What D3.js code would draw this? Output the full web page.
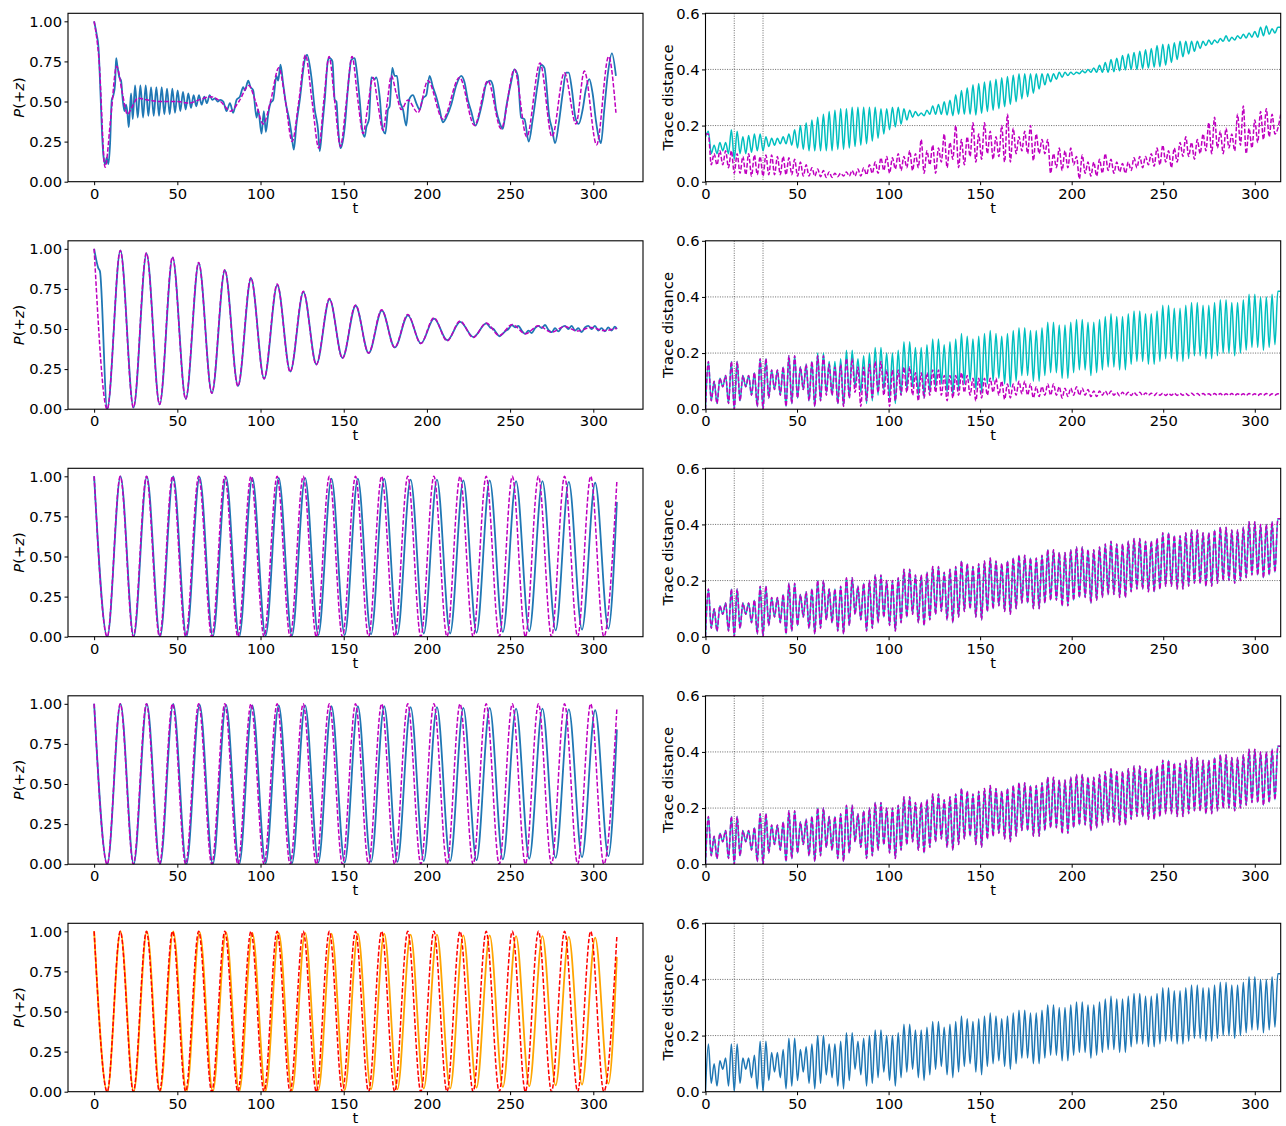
<!DOCTYPE html>
<html>
<head>
<meta charset="utf-8">
<script src="https://cdn.jsdelivr.net/npm/d3@7"></script>
<style>
  body { margin: 0; background: #fff; }
  svg text { font-family: "DejaVu Sans", sans-serif; fill: #000; }
</style>
</head>
<body>
<div id="fig"></div>
<script>
// ---- ticks ----
const tTicks = [0, 50, 100, 150, 200, 250, 300];
const pTicks = [0, 0.25, 0.5, 0.75, 1.0];
const tdTicks = [0, 0.2, 0.4, 0.6];
const gridT = [15.708, 31.416];
const gridTd = [0.2, 0.4];

// ---- P(+z), row 1 (t, value) ----
const p1Sim = [[0,1.0],[1.5,0.92],[2.6,0.84],[3.6,0.61],[4.6,0.34],[5.6,0.16],[6.6,0.11],[7.6,0.15],[8.6,0.11],[9.6,0.24],[10.6,0.51],[11.6,0.54],[12.6,0.61],[13.2,0.77],[14.0,0.72],[15.2,0.65],[16.2,0.63],[17.2,0.51],[18.2,0.44],[19.2,0.48],[20.0,0.43],[20.8,0.34],[21.5,0.45],[22.2,0.55],[23.2,0.39],[24.6,0.60],[26.2,0.40],[27.8,0.60],[29.4,0.40],[31.0,0.60],[32.6,0.41],[34.2,0.59],[35.8,0.41],[37.4,0.59],[39.0,0.41],[40.6,0.59],[42.2,0.42],[43.8,0.58],[45.4,0.42],[47.0,0.58],[48.6,0.43],[50.2,0.57],[51.8,0.44],[53.4,0.56],[55.0,0.45],[56.6,0.55],[58.2,0.46],[59.8,0.54],[61.4,0.47],[63.0,0.54],[64.6,0.48],[66.2,0.53],[67.8,0.49],[69.4,0.54],[71.0,0.51],[72.6,0.52],[74.2,0.50],[75.8,0.51],[77.6,0.50],[79.6,0.44],[81.6,0.49],[83.6,0.43],[85.6,0.51],[87.6,0.53],[89.6,0.59],[90.6,0.57],[92.6,0.63],[94.0,0.59],[95.6,0.57],[97.6,0.40],[98.6,0.45],[100.6,0.30],[102.0,0.44],[103.2,0.31],[104.6,0.42],[106.0,0.49],[107.6,0.51],[109.6,0.66],[110.6,0.63],[112.0,0.73],[113.6,0.61],[115.2,0.49],[117.2,0.39],[118.6,0.30],[120.0,0.20],[121.6,0.36],[123.6,0.51],[126.6,0.76],[128.0,0.79],[130.6,0.65],[132.6,0.45],[134.6,0.32],[135.6,0.19],[137.0,0.33],[138.6,0.51],[140.6,0.76],[141.6,0.77],[143.2,0.75],[144.6,0.51],[145.6,0.50],[146.6,0.34],[148.0,0.21],[149.2,0.24],[150.6,0.34],[152.6,0.59],[154.6,0.76],[156.6,0.77],[157.6,0.71],[159.6,0.51],[161.2,0.32],[162.6,0.28],[163.6,0.34],[165.2,0.39],[166.6,0.65],[168.6,0.64],[169.6,0.65],[171.6,0.53],[173.2,0.34],[175.0,0.30],[176.6,0.45],[177.6,0.47],[179.2,0.71],[180.6,0.66],[182.0,0.66],[183.6,0.51],[185.6,0.45],[187.6,0.35],[189.2,0.51],[191.6,0.54],[193.6,0.49],[195.6,0.45],[197.6,0.52],[199.6,0.54],[201.6,0.66],[203.6,0.59],[205.6,0.53],[207.6,0.45],[209.6,0.37],[211.6,0.40],[214.6,0.48],[217.6,0.60],[220.6,0.66],[222.6,0.62],[224.6,0.51],[226.6,0.44],[229.2,0.35],[231.6,0.42],[233.6,0.51],[235.6,0.61],[238.0,0.63],[239.6,0.60],[241.6,0.45],[243.6,0.37],[245.6,0.33],[247.6,0.46],[250.6,0.62],[252.6,0.70],[254.6,0.66],[256.6,0.40],[258.6,0.39],[261.2,0.25],[263.6,0.39],[266.6,0.61],[268.6,0.73],[270.6,0.71],[273.6,0.40],[275.2,0.33],[277.0,0.24],[279.2,0.36],[281.6,0.55],[283.6,0.68],[285.2,0.68],[287.2,0.57],[289.2,0.40],[291.2,0.36],[293.6,0.45],[295.6,0.58],[297.6,0.64],[299.6,0.55],[301.6,0.38],[303.2,0.28],[304.6,0.24],[306.6,0.45],[308.6,0.66],[311.2,0.80],[313.6,0.66]];
const p1Exact = [[0,1.0],[3,0.75],[6.6,0.09],[10,0.40],[13.5,0.72],[17,0.55],[20,0.42],[23,0.47],[26,0.52],[32,0.51],[40,0.50],[50,0.50],[57,0.49],[63,0.51],[70,0.53],[76,0.50],[82,0.44],[87,0.50],[93,0.60],[97,0.50],[101.6,0.36],[106,0.50],[111,0.71],[115,0.50],[119,0.25],[123,0.50],[127,0.79],[131,0.50],[135,0.21],[138,0.50],[141.2,0.78],[144.6,0.50],[148,0.22],[151.6,0.50],[155,0.78],[158.6,0.50],[161.6,0.30],[164.6,0.48],[167.6,0.65],[170.6,0.48],[173.6,0.32],[176,0.48],[178.6,0.66],[181.6,0.55],[184.6,0.45],[188.6,0.51],[194.6,0.43],[200.6,0.63],[209.6,0.39],[219.6,0.65],[228.6,0.35],[236.6,0.63],[244.6,0.33],[252.6,0.70],[260,0.28],[268,0.74],[275.2,0.28],[282.6,0.68],[289.6,0.36],[294.6,0.69],[302,0.23],[309.2,0.78],[313.6,0.43]];

// ---- P(+z), row 2 ----
const p2Sim = [[0,1],[2.5,0.88],[3.5,0.86],[7.85,0],[15.8,0.99],[23.7,0.01],[31.5,0.97],[39.4,0.03],[47.2,0.945],[55.1,0.065],[62.9,0.91],[70.8,0.10],[78.6,0.865],[86.5,0.145],[94.3,0.815],[102.2,0.19],[110.1,0.775],[117.9,0.235],[125.8,0.73],[133.6,0.28],[141.5,0.685],[149.3,0.32],[157.2,0.645],[165,0.35],[172.9,0.615],[180.7,0.385],[188.6,0.585],[196.4,0.41],[204.3,0.565],[212.2,0.43],[220,0.545],[227.9,0.45],[235.7,0.535],[238,0.51],[240,0.50],[241.5,0.48],[243.5,0.455],[245.5,0.47],[247,0.485],[249,0.50],[251,0.525],[253,0.51],[255,0.52],[257,0.49],[259,0.47],[261,0.49],[263,0.475],[265,0.505],[267,0.52],[269,0.505],[271,0.525],[273,0.495],[275,0.48],[277,0.505],[279,0.485],[281,0.51],[283,0.52],[285,0.50],[287,0.52],[289,0.49],[291,0.505],[293,0.48],[295,0.51],[297,0.52],[299,0.50],[301,0.52],[303,0.49],[305,0.505],[307,0.485],[309,0.51],[311,0.49],[313,0.515],[314.2,0.50]];
const p2Exact = [[0,1],[7.85,0],[15.7,0.99],[23.6,0.01],[31.4,0.975],[39.3,0.03],[47.1,0.95],[55,0.063],[62.8,0.915],[70.7,0.10],[78.5,0.87],[86.4,0.143],[94.2,0.82],[102.1,0.19],[110,0.78],[117.8,0.233],[125.7,0.735],[133.5,0.277],[141.4,0.69],[149.2,0.317],[157.1,0.65],[164.9,0.35],[172.8,0.62],[180.6,0.384],[188.5,0.59],[196.3,0.41],[204.2,0.57],[212.1,0.426],[219.9,0.55],[227.8,0.447],[235.6,0.537],[243.5,0.46],[251.3,0.528],[259.2,0.47],[267,0.52],[274.9,0.48],[282.7,0.515],[290.6,0.487],[298.5,0.51],[306.3,0.49],[314.2,0.505]];

// ---- P(+z), rows 3-5 ----
const pSim = [[0,1],[7.92,0],[15.85,1],[23.77,0],[31.7,1],[39.62,0],[47.55,1],[55.47,0],[63.4,0.995],[71.32,0],[79.25,0.995],[87.17,0],[95.09,0.99],[103.02,0.005],[110.94,0.99],[118.87,0.005],[126.79,0.99],[134.72,0.01],[142.64,0.985],[150.57,0.01],[158.49,0.985],[166.42,0.015],[174.34,0.985],[182.26,0.015],[190.19,0.98],[198.11,0.02],[206.04,0.98],[213.96,0.02],[221.89,0.975],[229.81,0.025],[237.74,0.975],[245.66,0.03],[253.58,0.97],[261.51,0.035],[269.43,0.97],[277.36,0.04],[285.28,0.965],[293.21,0.045],[301.13,0.96],[309.06,0.05],[314.16,0.84]];
const pExact = [[0,1],[7.85,0],[15.71,1],[23.56,0],[31.42,1],[39.27,0],[47.12,1],[54.98,0],[62.83,1],[70.69,0],[78.54,1],[86.39,0],[94.25,1],[102.1,0],[109.96,1],[117.81,0],[125.66,1],[133.52,0],[141.37,1],[149.23,0],[157.08,1],[164.93,0],[172.79,1],[180.64,0],[188.5,1],[196.35,0],[204.2,1],[212.06,0],[219.91,1],[227.77,0],[235.62,1],[243.47,0],[251.33,1],[259.18,0],[267.04,1],[274.89,0],[282.74,1],[290.6,0],[298.45,1],[306.31,0],[314.16,0.97]];

// ---- trace distance: upper turning points (t = pi*(i+0.5)) and lower ones (t = pi*i) ----
const td1CyanHi = [0.18,0.13,0.14,0.14,0.185,0.18,0.16,0.165,0.17,0.17,0.16,0.155,0.155,0.16,0.17,0.185,0.20,0.21,0.22,0.23,0.24,0.25,0.255,0.26,0.26,0.265,0.265,0.265,0.265,0.265,0.26,0.26,0.265,0.265,0.26,0.255,0.25,0.245,0.255,0.27,0.275,0.285,0.29,0.31,0.325,0.335,0.345,0.35,0.355,0.36,0.365,0.37,0.375,0.38,0.385,0.385,0.385,0.385,0.385,0.385,0.385,0.39,0.39,0.39,0.39,0.395,0.40,0.405,0.415,0.425,0.435,0.44,0.45,0.455,0.46,0.465,0.47,0.475,0.485,0.49,0.49,0.495,0.50,0.50,0.50,0.50,0.50,0.505,0.505,0.51,0.52,0.515,0.52,0.525,0.53,0.535,0.55,0.555,0.545,0.55];
const td1CyanLo = [0.16,0.10,0.10,0.11,0.10,0.08,0.10,0.10,0.105,0.11,0.11,0.125,0.13,0.135,0.135,0.13,0.12,0.115,0.11,0.11,0.11,0.11,0.11,0.115,0.115,0.12,0.125,0.13,0.135,0.145,0.155,0.17,0.185,0.195,0.205,0.22,0.23,0.235,0.235,0.24,0.24,0.24,0.238,0.235,0.24,0.24,0.24,0.238,0.244,0.25,0.255,0.26,0.267,0.275,0.285,0.295,0.303,0.315,0.33,0.345,0.356,0.365,0.372,0.378,0.382,0.385,0.388,0.39,0.39,0.39,0.39,0.392,0.395,0.398,0.40,0.40,0.403,0.405,0.408,0.41,0.415,0.425,0.435,0.445,0.455,0.465,0.475,0.485,0.49,0.495,0.50,0.50,0.505,0.51,0.512,0.515,0.515,0.52,0.525,0.53,0.55];
const td1MagHi = [0.17,0.10,0.11,0.11,0.11,0.10,0.09,0.10,0.095,0.09,0.095,0.095,0.09,0.09,0.085,0.08,0.07,0.06,0.05,0.045,0.04,0.035,0.03,0.03,0.035,0.04,0.045,0.05,0.06,0.07,0.085,0.09,0.085,0.10,0.09,0.11,0.10,0.15,0.11,0.13,0.12,0.17,0.14,0.20,0.15,0.16,0.21,0.17,0.21,0.18,0.16,0.20,0.24,0.19,0.16,0.18,0.20,0.17,0.15,0.15,0.10,0.12,0.11,0.12,0.09,0.095,0.07,0.07,0.08,0.10,0.08,0.07,0.065,0.07,0.085,0.09,0.09,0.10,0.12,0.13,0.11,0.12,0.14,0.16,0.14,0.15,0.17,0.21,0.23,0.18,0.19,0.17,0.24,0.27,0.19,0.22,0.25,0.26,0.24,0.19];
const td1MagLo = [0.17,0.06,0.06,0.06,0.05,0.03,0.03,0.025,0.02,0.025,0.02,0.025,0.025,0.025,0.025,0.025,0.02,0.02,0.02,0.02,0.018,0.015,0.015,0.018,0.02,0.02,0.02,0.02,0.025,0.03,0.03,0.04,0.03,0.045,0.04,0.05,0.04,0.05,0.03,0.06,0.03,0.07,0.05,0.08,0.05,0.06,0.09,0.07,0.08,0.10,0.08,0.09,0.07,0.07,0.10,0.11,0.10,0.075,0.10,0.10,0.03,0.05,0.04,0.05,0.06,0.01,0.03,0.02,0.02,0.03,0.04,0.03,0.035,0.03,0.04,0.05,0.05,0.06,0.055,0.06,0.07,0.05,0.07,0.09,0.09,0.08,0.10,0.11,0.10,0.12,0.10,0.12,0.11,0.13,0.10,0.12,0.14,0.15,0.16,0.17,0.24];
const td2MagHi = [0.17,0.10,0.11,0.12,0.17,0.17,0.12,0.12,0.13,0.18,0.18,0.14,0.14,0.15,0.19,0.19,0.15,0.16,0.17,0.19,0.19,0.16,0.15,0.16,0.18,0.18,0.15,0.15,0.16,0.17,0.17,0.14,0.14,0.14,0.15,0.15,0.13,0.13,0.13,0.14,0.14,0.12,0.12,0.12,0.13,0.12,0.11,0.11,0.11,0.11,0.11,0.10,0.09,0.09,0.10,0.10,0.09,0.08,0.08,0.09,0.09,0.08,0.075,0.075,0.08,0.075,0.07,0.065,0.065,0.065,0.065,0.06,0.06,0.06,0.06,0.06,0.058,0.057,0.058,0.057,0.056,0.057,0.056,0.056,0.057,0.056,0.056,0.055,0.056,0.056,0.055,0.056,0.055,0.055,0.056,0.055,0.055,0.056,0.055,0.055];
const td2MagLo = [0.0,0.03,0.02,0.08,0.02,0.0,0.03,0.08,0.05,0.01,0.0,0.04,0.07,0.05,0.01,0.02,0.04,0.07,0.03,0.01,0.03,0.05,0.05,0.02,0.01,0.04,0.06,0.01,0.03,0.04,0.06,0.05,0.01,0.03,0.05,0.06,0.05,0.03,0.04,0.05,0.06,0.05,0.03,0.04,0.05,0.06,0.05,0.03,0.04,0.05,0.06,0.05,0.035,0.04,0.05,0.055,0.05,0.04,0.045,0.05,0.05,0.05,0.04,0.045,0.05,0.05,0.05,0.045,0.045,0.05,0.05,0.05,0.048,0.05,0.049,0.05,0.049,0.05,0.049,0.05,0.049,0.05,0.049,0.05,0.049,0.05,0.049,0.05,0.049,0.05,0.049,0.05,0.049,0.05,0.049,0.05,0.049,0.05,0.049,0.05,0.05];
const tdSimHi = [0.17,0.10,0.11,0.12,0.17,0.17,0.12,0.12,0.13,0.18,0.18,0.14,0.14,0.15,0.19,0.19,0.15,0.16,0.17,0.20,0.20,0.17,0.17,0.18,0.21,0.21,0.18,0.19,0.20,0.22,0.22,0.20,0.20,0.21,0.24,0.24,0.22,0.22,0.23,0.25,0.25,0.23,0.24,0.25,0.27,0.26,0.25,0.26,0.27,0.28,0.27,0.26,0.27,0.28,0.29,0.29,0.28,0.28,0.29,0.31,0.31,0.30,0.30,0.31,0.32,0.32,0.31,0.31,0.32,0.33,0.34,0.33,0.33,0.34,0.35,0.35,0.34,0.34,0.35,0.37,0.37,0.36,0.36,0.37,0.38,0.38,0.37,0.37,0.38,0.39,0.39,0.38,0.38,0.39,0.41,0.41,0.40,0.40,0.41,0.42];
const tdSimLo = [0.0,0.03,0.02,0.08,0.02,0.0,0.03,0.08,0.05,0.01,0.0,0.04,0.07,0.05,0.01,0.02,0.04,0.07,0.03,0.01,0.03,0.06,0.05,0.02,0.01,0.04,0.08,0.06,0.02,0.03,0.05,0.07,0.04,0.02,0.05,0.07,0.08,0.05,0.04,0.06,0.08,0.09,0.06,0.05,0.07,0.09,0.10,0.07,0.06,0.09,0.10,0.11,0.09,0.08,0.10,0.12,0.12,0.10,0.10,0.12,0.13,0.13,0.11,0.11,0.13,0.14,0.14,0.12,0.13,0.14,0.15,0.15,0.14,0.14,0.16,0.17,0.17,0.16,0.16,0.17,0.18,0.18,0.17,0.17,0.18,0.19,0.19,0.18,0.18,0.19,0.20,0.20,0.19,0.20,0.21,0.22,0.22,0.21,0.22,0.23,0.42];

// ---- layout ----
const W = 1286, H = 1126;
const leftRange = [68, 643], rightRange = [705.5, 1280.7];
const rowH = 168.4;
const rowTop = r => 13.3 + r * 227.5;
const C = { blue: '#1f77b4', mag: '#bf00bf', cyan: '#00bfbf', orange: '#ffa500', red: '#ff0000' };

function turning(hi, lo) {
    const pts = [];
    for (let i = 0; i < hi.length; i++) {
        pts.push([Math.PI * i, lo[i]]);
        pts.push([Math.PI * (i + 0.5), hi[i]]);
    }
    if (lo.length > hi.length) pts.push([Math.PI * hi.length, lo[hi.length]]);
    return pts;
}

const td1Cyan = turning(td1CyanHi, td1CyanLo);
const td1Mag = turning(td1MagHi, td1MagLo);
const td2Mag = turning(td2MagHi, td2MagLo);
const tdSim = turning(tdSimHi, tdSimLo);

const leftRows = [
    [{ d: p1Sim, c: C.blue }, { d: p1Exact, c: C.mag, dash: true }],
    [{ d: p2Sim, c: C.blue }, { d: p2Exact, c: C.mag, dash: true }],
    [{ d: pSim, c: C.blue }, { d: pExact, c: C.mag, dash: true }],
    [{ d: pSim, c: C.blue }, { d: pExact, c: C.mag, dash: true }],
    [{ d: pSim, c: C.orange }, { d: pExact, c: C.red, dash: true }]
];
const rightRows = [
    [{ d: td1Cyan, c: C.cyan }, { d: td1Mag, c: C.mag, dash: true }],
    [{ d: tdSim, c: C.cyan }, { d: td2Mag, c: C.mag, dash: true }],
    [{ d: tdSim, c: C.cyan }, { d: tdSim, c: C.mag, dash: true }],
    [{ d: tdSim, c: C.cyan }, { d: tdSim, c: C.mag, dash: true }],
    [{ d: tdSim, c: C.blue }]
];

const svg = d3.select('#fig').append('svg')
    .attr('width', W)
    .attr('height', H);
svg.append('rect').attr('width', W).attr('height', H).attr('fill', '#fff');

function panel(r, left, series) {
    const top = rowTop(r), bottom = top + rowH;
    const range = left ? leftRange : rightRange;
    const x = d3.scaleLinear().domain(left ? [-15.708, 329.87] : [0, 314.16]).range(range);
    const y = d3.scaleLinear().domain(left ? [0, 1.05] : [0, 0.6]).range([bottom, top]);
    const g = svg.append('g');
    const id = 'clip' + (left ? 'L' : 'R') + r;

    g.append('clipPath').attr('id', id).append('rect')
        .attr('x', range[0]).attr('y', top)
        .attr('width', range[1] - range[0]).attr('height', rowH);

    if (!left) {
        g.selectAll('line.gx').data(gridT).enter().append('line')
            .attr('x1', d => x(d)).attr('x2', d => x(d))
            .attr('y1', top).attr('y2', bottom)
            .attr('stroke', '#444').attr('stroke-width', 0.8).attr('stroke-dasharray', '1,1.4');
        g.selectAll('line.gy').data(gridTd).enter().append('line')
            .attr('x1', range[0]).attr('x2', range[1])
            .attr('y1', d => y(d)).attr('y2', d => y(d))
            .attr('stroke', '#444').attr('stroke-width', 0.8).attr('stroke-dasharray', '1,1.4');
    }

    const line = d3.line().x(d => x(d[0])).y(d => y(d[1])).curve(d3.curveMonotoneX);
    series.forEach(s => {
        g.append('path').datum(s.d)
            .attr('clip-path', `url(#${id})`)
            .attr('d', line)
            .attr('fill', 'none')
            .attr('stroke', s.c)
            .attr('stroke-width', s.dash ? 1.5 : (left ? 1.8 : 1.5))
            .attr('stroke-dasharray', s.dash ? '4.5,2' : null);
    });

    const xAxis = g.append('g').attr('transform', `translate(0,${bottom})`)
        .call(d3.axisBottom(x).tickValues(tTicks).tickFormat(d3.format('d')).tickSize(3.5).tickPadding(3));
    const yAxis = g.append('g').attr('transform', `translate(${range[0]},0)`)
        .call(d3.axisLeft(y).tickValues(left ? pTicks : tdTicks)
            .tickFormat(d3.format(left ? '.2f' : '.1f')).tickSize(3.5).tickPadding(2.5));
    [xAxis, yAxis].forEach(a => {
        a.select('.domain').remove();
        a.selectAll('line').attr('stroke', '#000').attr('stroke-width', 1);
        a.selectAll('text').attr('font-size', '14.7px').attr('fill', '#000')
            .attr('font-family', '"DejaVu Sans", sans-serif');
    });

    g.append('rect')
        .attr('x', range[0]).attr('y', top)
        .attr('width', range[1] - range[0]).attr('height', rowH)
        .attr('fill', 'none').attr('stroke', '#000').attr('stroke-width', 1.1);

    g.append('text')
        .attr('x', (range[0] + range[1]) / 2)
        .attr('y', bottom + 31)
        .attr('text-anchor', 'middle')
        .attr('font-size', '14.7px')
        .text('t');

    const cy = (top + bottom) / 2;
    if (left) {
        const lab = g.append('text')
            .attr('transform', `translate(23.5,${cy}) rotate(-90)`)
            .attr('text-anchor', 'middle')
            .attr('font-size', '14.7px');
        lab.append('tspan').attr('font-style', 'italic').text('P');
        lab.append('tspan').text('(+');
        lab.append('tspan').attr('font-style', 'italic').text('z');
        lab.append('tspan').text(')');
    } else {
        g.append('text')
            .attr('transform', `translate(673,${cy}) rotate(-90)`)
            .attr('text-anchor', 'middle')
            .attr('font-size', '14.7px')
            .text('Trace distance');
    }
}

leftRows.forEach((s, r) => panel(r, true, s));
rightRows.forEach((s, r) => panel(r, false, s));
</script>
</body>
</html>
